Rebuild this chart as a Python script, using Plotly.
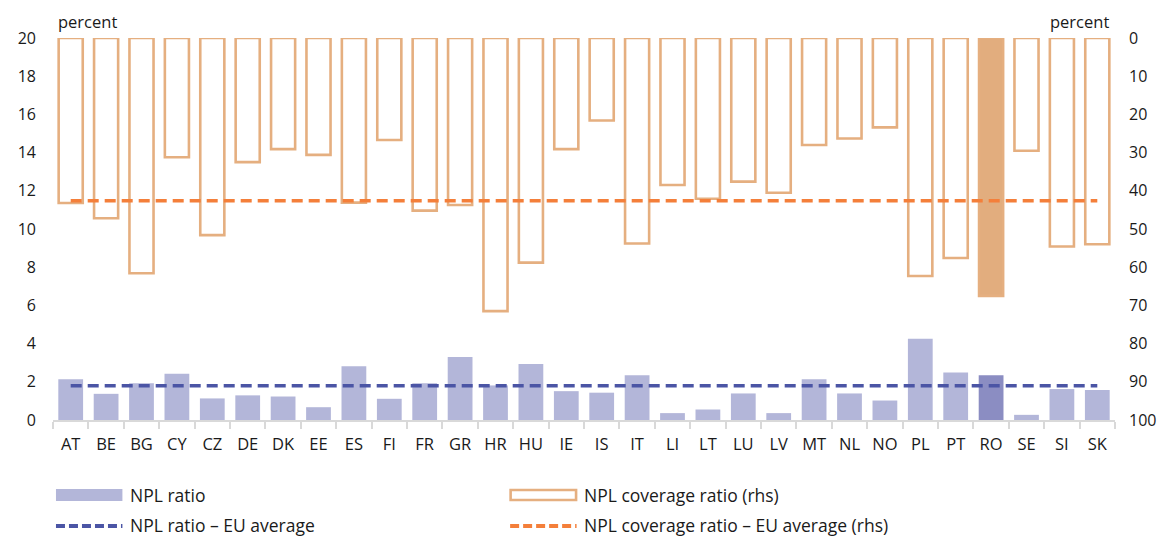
import plotly.graph_objects as go

# Countries and indicators (percent)
countries = ["AT", "BE", "BG", "CY", "CZ", "DE", "DK", "EE", "ES", "FI",
             "FR", "GR", "HR", "HU", "IE", "IS", "IT", "LI", "LT", "LU",
             "LV", "MT", "NL", "NO", "PL", "PT", "RO", "SE", "SI", "SK"]
npl_ratio = [2.13, 1.37, 1.92, 2.42, 1.13, 1.29, 1.23, 0.67, 2.81, 1.11,
             1.93, 3.30, 1.81, 2.93, 1.51, 1.43, 2.34, 0.36, 0.55, 1.39,
             0.36, 2.13, 1.39, 1.02, 4.26, 2.49, 2.34, 0.27, 1.62, 1.57]
npl_coverage = [43.2, 47.2, 61.6, 31.2, 51.6, 32.5, 29.1, 30.6, 43.1, 26.7,
                45.2, 43.7, 71.5, 58.8, 29.1, 21.6, 53.8, 38.5, 42.1, 37.6,
                40.5, 28.0, 26.3, 23.4, 62.3, 57.6, 67.5, 29.5, 54.6, 54.0]
npl_ratio_eu_avg = 1.79
npl_coverage_eu_avg = 42.6
highlight = "RO"

left_ticks = [0, 2, 4, 6, 8, 10, 12, 14, 16, 18, 20]
right_ticks = [0, 10, 20, 30, 40, 50, 60, 70, 80, 90, 100]

FONT = "Open Sans"
TXT = "#1a1a1a"
NPL_COL = "#B3B6D9"
NPL_HI = "#8B8DC2"
COV_COL = "#E5AF80"
COV_HI = "#E2AD7E"
NPL_AVG_COL = "#4B55A5"
COV_AVG_COL = "#F47F3A"

W, H = 1168, 538
ML, MR, MT, MB = 53, 44, 38, 118
PW, PH = W - ML - MR, H - MT - MB


def px_x(x):
    return (x - ML) / PW


def px_y(y):
    return (H - MB - y) / PH


npl_colors = [NPL_HI if c == highlight else NPL_COL for c in countries]
cov_fill = [COV_HI if c == highlight else "rgba(0,0,0,0)" for c in countries]

fig = go.Figure()

fig.add_trace(go.Bar(
    x=countries, y=npl_ratio, yaxis="y", width=0.7,
    marker=dict(color=npl_colors, line=dict(width=0)),
    name="NPL ratio", showlegend=False,
))
fig.add_trace(go.Bar(
    x=countries, y=npl_coverage, yaxis="y2", width=0.68,
    marker=dict(color=cov_fill, line=dict(color=COV_COL, width=2.6)),
    name="NPL coverage ratio (rhs)", showlegend=False,
))
fig.add_trace(go.Scatter(
    x=[countries[0], countries[-1]], y=[npl_ratio_eu_avg, npl_ratio_eu_avg],
    yaxis="y", mode="lines",
    line=dict(color=NPL_AVG_COL, width=3.5, dash="11px,6px"),
    name="NPL ratio – EU average", showlegend=False,
))
fig.add_trace(go.Scatter(
    x=[countries[0], countries[-1]], y=[npl_coverage_eu_avg, npl_coverage_eu_avg],
    yaxis="y2", mode="lines",
    line=dict(color=COV_AVG_COL, width=3.5, dash="11px,6px"),
    name="NPL coverage ratio – EU average (rhs)", showlegend=False,
))

# Legend drawn as shapes and text below the plot
shapes = [
    dict(type="rect", xref="paper", yref="paper",
         x0=px_x(56), x1=px_x(123), y0=px_y(489), y1=px_y(501),
         fillcolor=NPL_COL, line=dict(width=0)),
    dict(type="rect", xref="paper", yref="paper",
         x0=px_x(514.5), x1=px_x(580.5), y0=px_y(490), y1=px_y(500),
         fillcolor="white", line=dict(color=COV_COL, width=2.6)),
    dict(type="line", xref="paper", yref="paper",
         x0=px_x(56), x1=px_x(123), y0=px_y(526), y1=px_y(526),
         line=dict(color=NPL_AVG_COL, width=4, dash="9px,4px")),
    dict(type="line", xref="paper", yref="paper",
         x0=px_x(514), x1=px_x(581), y0=px_y(526), y1=px_y(526),
         line=dict(color=COV_AVG_COL, width=4, dash="9px,4px")),
]

legend_text = [
    (131, 495, "NPL ratio"),
    (588, 495, "NPL coverage ratio (rhs)"),
    (131, 525, "NPL ratio – EU average"),
    (588, 525, "NPL coverage ratio – EU average (rhs)"),
]
annotations = [
    dict(xref="paper", yref="paper", x=px_x(x), y=px_y(y), text=t,
         showarrow=False, xanchor="left", yanchor="middle",
         xshift=-2, font=dict(family=FONT, size=17.5, color=TXT))
    for x, y, t in legend_text
]
annotations += [
    dict(xref="paper", yref="paper", x=px_x(56), y=px_y(22), text="percent",
         showarrow=False, xanchor="left", yanchor="middle",
         font=dict(family=FONT, size=16.5, color=TXT)),
    dict(xref="paper", yref="paper", x=px_x(1120), y=px_y(22), text="percent",
         showarrow=False, xanchor="right", yanchor="middle",
         font=dict(family=FONT, size=16.5, color=TXT)),
]

fig.update_layout(
    width=W, height=H,
    margin=dict(l=ML, r=MR, t=MT, b=MB, pad=0),
    paper_bgcolor="white", plot_bgcolor="white",
    barmode="overlay",
    showlegend=False,
    font=dict(family=FONT, size=16, color=TXT),
    xaxis=dict(
        type="category", categoryorder="array", categoryarray=countries,
        range=[-0.5, len(countries) - 0.5],
        showline=True, linecolor="#D9D9D9", linewidth=2,
        ticks="outside", tickson="boundaries", ticklen=7, tickcolor="#D9D9D9",
        tickwidth=1.5, showgrid=False, zeroline=False,
        ticklabelstandoff=8,
        tickfont=dict(family=FONT, size=16.5, color=TXT),
    ),
    yaxis=dict(
        range=[0, 20], tickvals=left_ticks, ticks="", showgrid=False,
        zeroline=False, showline=False, ticklabelstandoff=16,
        tickfont=dict(family=FONT, size=16, color=TXT),
    ),
    yaxis2=dict(
        range=[100, 0], overlaying="y", side="right", tickvals=right_ticks,
        ticks="", showgrid=False, zeroline=False, showline=False,
        ticklabelstandoff=13,
        tickfont=dict(family=FONT, size=16, color=TXT),
    ),
    shapes=shapes,
    annotations=annotations,
)

fig.write_html("out.html")
